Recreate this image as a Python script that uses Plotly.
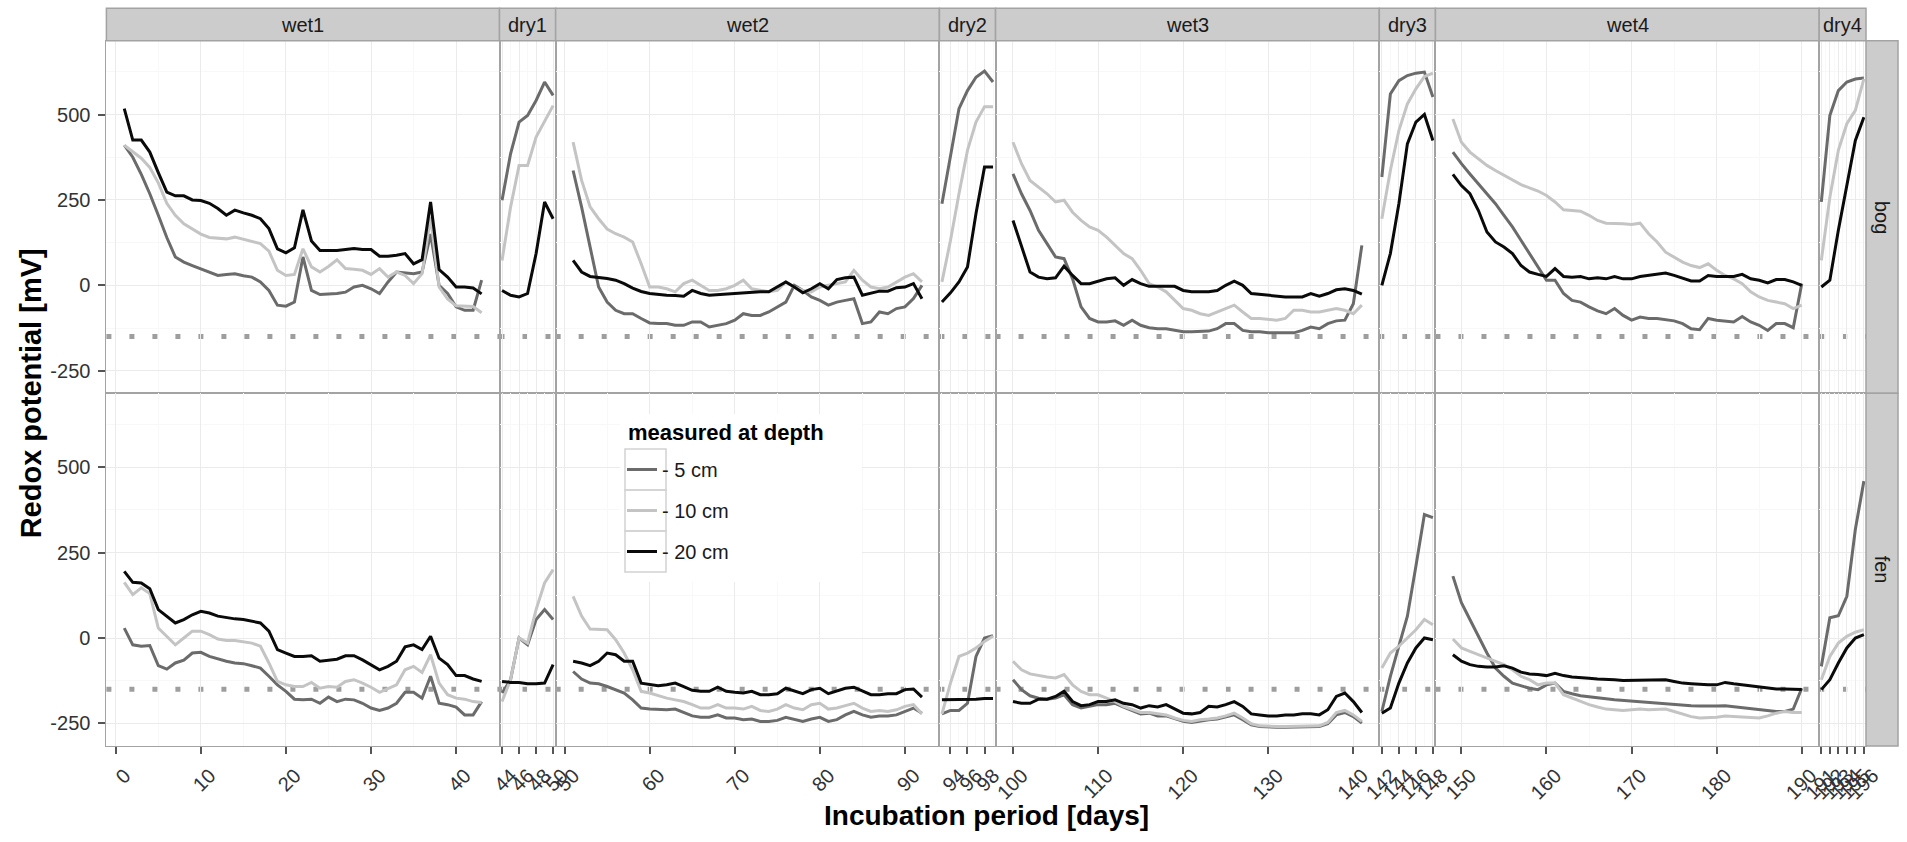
import plotly.graph_objects as go

# ---------------- data ----------------
PHASES = ["wet1", "dry1", "wet2", "dry2", "wet3", "dry3", "wet4", "dry4"]
PHASE_FIRST_DAY = [1, 44, 51, 93, 100, 142, 149, 191]
PHASE_LAST_DAY = [43, 50, 92, 99, 141, 148, 190, 196]
SITES = ["bog", "fen"]
DEPTHS = ["- 5 cm", "- 10 cm", "- 20 cm"]
THRESHOLD = -150
Y_RANGE = [-316, 716]
Y_TICKS = [-250, 0, 250, 500]
Y_TICK_LABELS = ["-250", "0", "250", "500"]

# bog
bog_wet1_5cm = [410, 375, 325, 268, 205, 140, 83, 68, 58, 49, 40, 29, 32, 34, 28, 24, 10, -15, -58, -61,
                -49, 83, -15, -27, -25, -24, -20, -5, 0, -10, -24, 10, 39, 36, 34, 39, 150, 0, -24, -63,
                -73, -73, 15]
bog_wet1_10cm = [410, 390, 372, 345, 300, 240, 205, 180, 165, 150, 140, 138, 136, 141, 134, 128, 122, 100, 44, 29,
                 32, 107, 54, 39, 55, 75, 49, 47, 44, 32, 49, 24, 39, 29, 5, 34, 200, -5, -40, -60,
                 -60, -62, -80]
bog_wet1_20cm = [517, 425, 425, 390, 330, 273, 262, 262, 250, 248, 240, 225, 205, 220, 212, 205, 195, 166, 107, 95,
                 110, 221, 130, 102, 102, 102, 105, 108, 105, 105, 85, 85, 88, 93, 63, 75, 244, 46, 24, -5,
                 -5, -8, -25]
bog_dry1_5cm = [249, 385, 478, 497, 541, 595, 556]
bog_dry1_10cm = [73, 229, 351, 351, 434, 482, 526]
bog_dry1_20cm = [-15, -29, -34, -24, 93, 244, 195]
bog_wet2_5cm = [336, 229, 112, -5, -49, -73, -83, -83, -97, -110, -112, -112, -117, -117, -107, -107, -122, -117, -112, -102,
                -83, -88, -88, -78, -63, -49, 0, -15, -34, -44, -58, -49, -44, -39, -112, -107, -78, -83, -68, -63,
                -39, 0]
bog_wet2_10cm = [419, 307, 230, 195, 165, 151, 141, 127, 63, -5, -5, -10, -19, 5, 15, 0, -15, -15, -10, 0,
                 15, -10, -15, -19, -15, 10, -5, -15, -19, -5, 0, 5, 10, 44, 15, -5, -10, -5, 10, 24,
                 34, 10]
bog_wet2_20cm = [73, 39, 26, 24, 20, 15, 5, -8, -18, -24, -27, -29, -30, -32, -15, -24, -29, -27, -25, -24,
                 -22, -20, -19, -19, -5, 10, -5, -22, -10, 5, -10, 17, 22, 24, -29, -24, -17, -17, -7, -5,
                 5, -39]
bog_dry2_5cm = [239, 375, 517, 570, 609, 627, 595]
bog_dry2_10cm = [10, 131, 268, 395, 478, 523, 523]
bog_dry2_20cm = [-49, -22, 10, 54, 210, 346, 346]
bog_wet3_5cm = [326, 268, 219, 161, 122, 83, 78, 19, -63, -97, -107, -107, -104, -117, -102, -117, -124, -127, -127, -132,
                -136, -136, -134, -134, -127, -112, -112, -132, -136, -136, -139, -139, -139, -139, -132, -122, -127, -112, -104, -102,
                -54, 117]
bog_wet3_10cm = [419, 356, 307, 288, 268, 244, 249, 214, 190, 171, 161, 141, 117, 93, 78, 44, 5, -5, -19, -44,
                 -68, -73, -83, -88, -78, -68, -58, -78, -97, -97, -100, -102, -97, -73, -73, -78, -78, -73, -68, -73,
                 -83, -58]
bog_wet3_20cm = [190, 112, 39, 24, 19, 22, 56, 29, 5, 5, 12, 19, 22, 0, 17, 5, -3, -3, -3, -3,
                 -15, -19, -19, -19, -15, 0, 12, 0, -24, -27, -29, -31, -34, -34, -34, -24, -32, -24, -13, -10,
                 -15, -26]
bog_dry3_5cm = [317, 560, 599, 614, 621, 624, 551]
bog_dry3_10cm = [195, 336, 453, 531, 575, 611, 621]
bog_dry3_20cm = [0, 93, 239, 414, 478, 500, 424]
bog_wet4_5cm = [390, 356, 326, 297, 268, 239, 205, 171, 132, 93, 54, 15, 15, -24, -44, -49, -63, -75, -83, -68,
                -88, -102, -93, -97, -97, -100, -104, -112, -127, -130, -97, -102, -104, -107, -91, -107, -117, -132, -112, -112,
                -124, 5]
bog_wet4_10cm = [487, 419, 390, 370, 351, 336, 322, 307, 295, 285, 276, 263, 244, 221, 219, 217, 205, 190, 182, 182,
                 180, 178, 182, 151, 127, 97, 83, 68, 58, 52, 63, 44, 29, 19, 5, -19, -34, -44, -49, -54,
                 -68, -58]
bog_wet4_20cm = [325, 292, 268, 219, 156, 127, 112, 93, 58, 39, 32, 26, 49, 26, 24, 26, 19, 22, 19, 26,
                 19, 19, 26, 29, 34, 36, 29, 22, 13, 13, 29, 26, 26, 26, 32, 19, 15, 7, 17, 17,
                 10, 0]
bog_dry4_5cm = [244, 497, 570, 595, 604, 607]
bog_dry4_10cm = [73, 258, 395, 473, 512, 604]
bog_dry4_20cm = [-5, 15, 161, 288, 424, 492]

# fen
fen_wet1_5cm = [29, -20, -24, -22, -81, -91, -73, -65, -44, -42, -54, -62, -68, -73, -75, -81, -88, -112, -137, -156,
                -179, -181, -179, -191, -173, -186, -179, -181, -191, -205, -212, -205, -191, -159, -159, -176, -112, -191, -195, -202,
                -225, -225, -186]
fen_wet1_10cm = [163, 127, 147, 130, 29, 5, -20, 0, 20, 20, 10, -3, -7, -7, -10, -15, -24, -73, -127, -137,
                 -142, -142, -130, -147, -142, -144, -127, -122, -132, -144, -159, -149, -137, -93, -83, -101, -49, -132, -166, -176,
                 -179, -186, -189]
fen_wet1_20cm = [195, 163, 161, 144, 83, 64, 44, 54, 68, 78, 73, 64, 59, 56, 54, 49, 44, 20, -34, -44,
                 -54, -54, -52, -68, -66, -62, -52, -52, -64, -78, -93, -83, -68, -26, -20, -34, 5, -59, -78, -110,
                 -110, -120, -127]
fen_dry1_5cm = [-161, -122, 0, -20, 54, 83, 54]
fen_dry1_10cm = [-186, -122, 0, -15, 83, 161, 200]
fen_dry1_20cm = [-127, -130, -130, -134, -134, -132, -78]
fen_wet2_5cm = [-98, -120, -132, -134, -142, -151, -161, -181, -205, -208, -210, -210, -208, -218, -228, -232, -232, -225, -234, -234,
                -239, -237, -244, -244, -241, -232, -239, -244, -237, -232, -244, -239, -225, -215, -225, -232, -228, -228, -225, -215,
                -205, -220]
fen_wet2_10cm = [122, 64, 26, 26, 24, -5, -44, -93, -156, -161, -169, -176, -181, -186, -195, -205, -205, -195, -205, -205,
                 -208, -200, -212, -215, -208, -195, -205, -210, -195, -191, -208, -205, -198, -191, -205, -215, -212, -215, -210, -200,
                 -195, -222]
fen_wet2_20cm = [-68, -73, -81, -68, -44, -49, -68, -68, -132, -137, -140, -137, -132, -142, -153, -156, -156, -144, -156, -159,
                 -161, -156, -166, -166, -163, -147, -156, -163, -151, -147, -163, -156, -147, -144, -156, -166, -166, -163, -163, -151,
                 -149, -173]
fen_dry2_5cm = [-222, -212, -212, -191, -54, 0, 7]
fen_dry2_10cm = [-222, -132, -54, -44, -29, -10, 5]
fen_dry2_20cm = [-181, -181, -181, -181, -179, -177, -177]
fen_wet3_5cm = [-122, -151, -169, -176, -179, -176, -166, -195, -205, -200, -195, -195, -191, -202, -212, -222, -220, -228, -228, -237,
                -244, -247, -242, -239, -237, -232, -225, -239, -254, -259, -261, -261, -261, -261, -261, -259, -259, -251, -225, -218,
                -230, -249]
fen_wet3_10cm = [-68, -93, -105, -110, -114, -117, -107, -137, -156, -166, -166, -176, -186, -200, -208, -218, -218, -222, -225, -234,
                 -241, -244, -239, -237, -234, -228, -220, -234, -251, -257, -259, -259, -259, -259, -259, -257, -257, -247, -218, -212,
                 -225, -244]
fen_wet3_20cm = [-186, -191, -191, -179, -179, -171, -156, -186, -198, -195, -186, -186, -181, -191, -195, -205, -198, -202, -195, -208,
                 -220, -222, -218, -200, -202, -195, -186, -200, -222, -225, -228, -228, -225, -225, -222, -222, -225, -210, -171, -161,
                 -186, -218]
fen_dry3_5cm = [-215, -112, -24, 64, 210, 361, 352]
fen_dry3_10cm = [-88, -44, -24, 0, 24, 54, 39]
fen_dry3_20cm = [-220, -205, -132, -73, -29, 0, -5]
fen_wet4_5cm = [181, 103, 54, 5, -44, -88, -112, -132, -140, -147, -151, -137, -132, -156, -163, -169, -172, -176, -178, -181,
                -183, -186, -186, -188, -191, -193, -195, -196, -198, -199, -200, -199, -198, -201, -205, -207, -210, -212, -215, -215,
                -208, -147]
fen_wet4_10cm = [-3, -29, -39, -49, -59, -68, -78, -93, -112, -122, -137, -132, -132, -166, -176, -186, -195, -202, -208, -210,
                 -212, -210, -208, -210, -208, -208, -215, -222, -230, -234, -234, -232, -228, -230, -232, -234, -234, -228, -220, -215,
                 -218, -218]
fen_wet4_20cm = [-49, -68, -78, -83, -85, -85, -81, -88, -100, -105, -107, -110, -103, -110, -114, -117, -118, -120, -120, -122,
                 -124, -124, -122, -124, -122, -122, -127, -132, -134, -136, -137, -137, -130, -134, -137, -142, -145, -147, -149, -149,
                 -151, -151]
fen_dry4_5cm = [-83, 59, 65, 122, 318, 459]
fen_dry4_10cm = [-122, -54, -15, 5, 17, 24]
fen_dry4_20cm = [-151, -122, -73, -29, 0, 10]

SERIES = {
    ("bog", "wet1"): [bog_wet1_5cm, bog_wet1_10cm, bog_wet1_20cm],
    ("bog", "dry1"): [bog_dry1_5cm, bog_dry1_10cm, bog_dry1_20cm],
    ("bog", "wet2"): [bog_wet2_5cm, bog_wet2_10cm, bog_wet2_20cm],
    ("bog", "dry2"): [bog_dry2_5cm, bog_dry2_10cm, bog_dry2_20cm],
    ("bog", "wet3"): [bog_wet3_5cm, bog_wet3_10cm, bog_wet3_20cm],
    ("bog", "dry3"): [bog_dry3_5cm, bog_dry3_10cm, bog_dry3_20cm],
    ("bog", "wet4"): [bog_wet4_5cm, bog_wet4_10cm, bog_wet4_20cm],
    ("bog", "dry4"): [bog_dry4_5cm, bog_dry4_10cm, bog_dry4_20cm],
    ("fen", "wet1"): [fen_wet1_5cm, fen_wet1_10cm, fen_wet1_20cm],
    ("fen", "dry1"): [fen_dry1_5cm, fen_dry1_10cm, fen_dry1_20cm],
    ("fen", "wet2"): [fen_wet2_5cm, fen_wet2_10cm, fen_wet2_20cm],
    ("fen", "dry2"): [fen_dry2_5cm, fen_dry2_10cm, fen_dry2_20cm],
    ("fen", "wet3"): [fen_wet3_5cm, fen_wet3_10cm, fen_wet3_20cm],
    ("fen", "dry3"): [fen_dry3_5cm, fen_dry3_10cm, fen_dry3_20cm],
    ("fen", "wet4"): [fen_wet4_5cm, fen_wet4_10cm, fen_wet4_20cm],
    ("fen", "dry4"): [fen_dry4_5cm, fen_dry4_10cm, fen_dry4_20cm],
}

# ---------------- style / layout ----------------
W, H = 1907, 842
PANEL_LEFT, PANEL_RIGHT = 106.4, 1866.0
STRIP_TOP, PANEL_TOP, PANEL_MID, PANEL_BOTTOM = 8.3, 40.7, 393.3, 746.0
RSTRIP_RIGHT = 1898.0
COLORS = ["#6B6B6B", "#C4C4C4", "#0A0A0A"]
FONT = "Liberation Sans, Arial, Helvetica, sans-serif"
BORDER = "#A3A3A3"
STRIP_FILL = "#CCCCCC"
GRID_MAJOR = "#EBEBEB"
GRID_MINOR = "#F8F8F8"
TICK_COLOR = "#555555"
TICK_FONT = dict(family=FONT, size=20, color="#333333")
KEY_BORDER = "#D2D2D2"


def px_x(p):
    return p / W


def px_y(p):
    return 1 - p / H


# x ranges with ggplot-like 5% expansion
ranges = []
for f, l in zip(PHASE_FIRST_DAY, PHASE_LAST_DAY):
    pad = 0.05 * (l - f)
    ranges.append((f - pad, l + pad))
total = sum(hi - lo for lo, hi in ranges)
scale = (PANEL_RIGHT - PANEL_LEFT) / total
col_edges = []
cur = PANEL_LEFT
for lo, hi in ranges:
    nxt = cur + (hi - lo) * scale
    col_edges.append((cur, nxt))
    cur = nxt

row_edges = [(PANEL_TOP, PANEL_MID), (PANEL_MID, PANEL_BOTTOM)]

fig = go.Figure()
layout = dict(
    template="none",
    width=W, height=H, autosize=False,
    margin=dict(l=0, r=0, t=0, b=0, pad=0, autoexpand=False),
    paper_bgcolor="white", plot_bgcolor="white",
    font=dict(family=FONT, color="#1A1A1A"),
    showlegend=True,
)
shapes = []
annotations = []

for r, site in enumerate(SITES):
    for c, phase in enumerate(PHASES):
        idx = r * len(PHASES) + c + 1
        xs = "" if idx == 1 else str(idx)
        lo, hi = ranges[c]
        width_days = hi - lo
        if width_days > 20:
            dtick = 10
        elif width_days > 6.2:
            dtick = 2
        else:
            dtick = 1
        x0p, x1p = col_edges[c]
        y0p, y1p = row_edges[r]
        bottom = (r == len(SITES) - 1)
        left = (c == 0)
        layout["xaxis" + xs] = dict(
            domain=[px_x(x0p), px_x(x1p)], anchor="y" + xs, range=[lo, hi],
            automargin=False,
            tickmode="linear", tick0=0, dtick=dtick,
            showgrid=True, gridcolor=GRID_MAJOR, gridwidth=1,
            minor=dict(showgrid=True, gridcolor=GRID_MINOR, dtick=dtick / 2, tick0=0),
            zeroline=False, showline=True, mirror=True, linecolor=BORDER, linewidth=1,
            ticks="outside" if bottom else "", ticklen=7, tickcolor=TICK_COLOR, tickwidth=1.5,
            showticklabels=bottom, tickangle=-45, tickfont=TICK_FONT,
            ticklabelshift=9, ticklabelstandoff=2,
            fixedrange=True,
        )
        layout["yaxis" + xs] = dict(
            domain=[px_y(y1p), px_y(y0p)], anchor="x" + xs, range=Y_RANGE,
            automargin=False,
            tickmode="array", tickvals=Y_TICKS, ticktext=Y_TICK_LABELS,
            showgrid=True, gridcolor=GRID_MAJOR, gridwidth=1,
            minor=dict(showgrid=True, gridcolor=GRID_MINOR, tickmode="linear", dtick=125, tick0=0),
            zeroline=False, showline=True, mirror=True, linecolor=BORDER, linewidth=1,
            ticks="outside" if left else "", ticklen=7, tickcolor=TICK_COLOR, tickwidth=1.5,
            showticklabels=left, tickfont=TICK_FONT, ticklabelstandoff=4,
            fixedrange=True,
        )
        days = list(range(PHASE_FIRST_DAY[c], PHASE_LAST_DAY[c] + 1))
        for k, vals in enumerate(SERIES[(site, phase)]):
            fig.add_trace(go.Scatter(
                x=days, y=vals, mode="lines", name=DEPTHS[k],
                line=dict(color=COLORS[k], width=3),
                legendgroup=DEPTHS[k], showlegend=(idx == 1),
                xaxis="x" + xs, yaxis="y" + xs, hoverinfo="skip",
            ))
        # threshold dotted line
        shapes.append(dict(
            type="line", xref="x" + xs + " domain", x0=0, x1=1,
            yref="y" + xs, y0=THRESHOLD, y1=THRESHOLD,
            line=dict(color="#9E9E9E", width=5, dash="5px,18px"), layer="below",
        ))

# top strips
for c, phase in enumerate(PHASES):
    xs = "" if c == 0 else str(c + 1)
    shapes.append(dict(
        type="rect", xref="x" + xs + " domain", x0=0, x1=1,
        yref="paper", y0=px_y(PANEL_TOP), y1=px_y(STRIP_TOP),
        fillcolor=STRIP_FILL, line=dict(color=BORDER, width=1.5), layer="above",
    ))
    annotations.append(dict(
        text=phase, xref="x" + xs + " domain", x=0.5, yref="paper",
        y=px_y((STRIP_TOP + PANEL_TOP) / 2), showarrow=False,
        font=dict(family=FONT, size=20, color="#1A1A1A"), xanchor="center", yanchor="middle",
    ))

# right strips
for r, site in enumerate(SITES):
    idx = r * len(PHASES) + 1
    ys = "" if idx == 1 else str(idx)
    shapes.append(dict(
        type="rect", xref="paper", x0=px_x(PANEL_RIGHT), x1=px_x(RSTRIP_RIGHT),
        yref="y" + ys + " domain", y0=0, y1=1,
        fillcolor=STRIP_FILL, line=dict(color=BORDER, width=1.5), layer="above",
    ))
    annotations.append(dict(
        text=site, xref="paper", x=px_x((PANEL_RIGHT + RSTRIP_RIGHT) / 2),
        yref="y" + ys + " domain", y=0.5, showarrow=False, textangle=90,
        font=dict(family=FONT, size=20, color="#1A1A1A"), xanchor="center", yanchor="middle",
    ))

# legend background + key boxes (ggplot style)
LEG_L, LEG_R, LEG_T, LEG_B = 620, 862, 414, 582
KEY_L, KEY_R = 625, 666
KEY_ROWS = [449, 490, 531, 572]
shapes.append(dict(type="rect", xref="paper", yref="paper",
                   x0=px_x(LEG_L), x1=px_x(LEG_R), y0=px_y(LEG_B), y1=px_y(LEG_T),
                   fillcolor="white", line=dict(width=0), layer="above"))
for a, b in zip(KEY_ROWS[:-1], KEY_ROWS[1:]):
    shapes.append(dict(type="rect", xref="paper", yref="paper",
                       x0=px_x(KEY_L), x1=px_x(KEY_R), y0=px_y(b), y1=px_y(a),
                       fillcolor="rgba(0,0,0,0)", line=dict(color=KEY_BORDER, width=1.5), layer="above"))
annotations.append(dict(
    text="<b>measured at depth</b>", xref="paper", yref="paper",
    x=px_x(626), y=px_y(432), xanchor="left", yanchor="middle", showarrow=False,
    font=dict(family=FONT, size=22, color="#000000"),
))

# axis titles
annotations.append(dict(
    text="<b>Incubation period [days]</b>", xref="paper", yref="paper",
    x=px_x((PANEL_LEFT + PANEL_RIGHT) / 2), y=px_y(815), showarrow=False,
    font=dict(family=FONT, size=28, color="#000000"), xanchor="center", yanchor="middle",
))
annotations.append(dict(
    text="<b>Redox potential [mV]</b>", xref="paper", yref="paper",
    x=px_x(31), y=px_y((PANEL_TOP + PANEL_BOTTOM) / 2), showarrow=False, textangle=-90,
    font=dict(family=FONT, size=29, color="#000000"), xanchor="center", yanchor="middle",
))

layout["legend"] = dict(
    x=px_x(622), y=px_y(450), xanchor="left", yanchor="top",
    bgcolor="rgba(0,0,0,0)", borderwidth=0,
    font=dict(family=FONT, size=20, color="#1A1A1A"),
    tracegroupgap=12, itemwidth=30,
)
layout["shapes"] = shapes
layout["annotations"] = annotations
fig.update_layout(**layout)

fig.write_html(
    "out.html",
    config={"displayModeBar": False},
    post_script="document.body.style.margin='0';document.body.style.overflow='hidden';",
)
